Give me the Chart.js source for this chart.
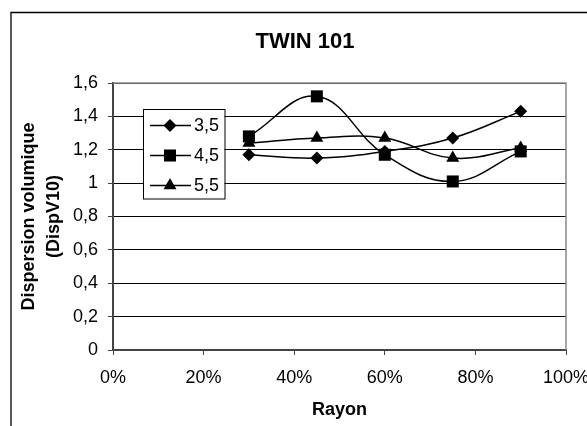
<!DOCTYPE html>
<html><head><meta charset="utf-8">
<script src="https://cdn.jsdelivr.net/npm/chart.js@4/dist/chart.umd.min.js"></script>
<style>html,body{margin:0;padding:0;background:#fff;} canvas{display:block;}</style>
</head><body>
<canvas id="c" width="587" height="426"></canvas>
<script>
// ---- data ----
const chartTitle = 'TWIN 101';
const xAxisTitle = 'Rayon';
const yAxisTitle = ['Dispersion volumique', '(DispV10)'];
const rayon = [0.30, 0.45, 0.60, 0.75, 0.90];
const seriesNames = ['3,5', '4,5', '5,5'];
const disp35 = [1.17, 1.15, 1.19, 1.27, 1.43];
const disp45 = [1.28, 1.52, 1.17, 1.01, 1.19];
const disp55 = [1.24, 1.27, 1.27, 1.15, 1.21];
const xTickValues = [0, 0.2, 0.4, 0.6, 0.8, 1.0];
const xTickLabels = ['0%', '20%', '40%', '60%', '80%', '100%'];
const yTickValues = [0, 0.2, 0.4, 0.6, 0.8, 1.0, 1.2, 1.4, 1.6];
const yTickLabels = ['0', '0,2', '0,4', '0,6', '0,8', '1', '1,2', '1,4', '1,6'];

// ---- styles ----
const FONT = "'Liberation Sans', Arial, sans-serif";
const seriesValues = [disp35, disp45, disp55];
const markerStyles = [
  {pointStyle: 'rectRot', radius: 6.5},
  {pointStyle: 'rect', radius: 8.5},
  {pointStyle: 'triangle', radius: 7.5}
];

const datasets = seriesNames.map((name, i) => ({
  label: name,
  data: rayon.map((x, j) => ({x: x, y: seriesValues[i][j]})),
  borderColor: '#000',
  borderWidth: 1.5,
  backgroundColor: '#000',
  pointStyle: markerStyles[i].pointStyle,
  pointRadius: markerStyles[i].radius,
  pointBackgroundColor: '#000',
  pointBorderColor: '#000',
  pointBorderWidth: 0,
  tension: 0.4,
  fill: false
}));

const framePlugin = {
  id: 'frame',
  beforeDatasetsDraw(chart) {
    const {ctx, chartArea: a} = chart;
    ctx.save();
    ctx.strokeStyle = '#8a8a8a';
    ctx.lineWidth = 1.5;
    ctx.beginPath();
    ctx.moveTo(a.left, a.top);
    ctx.lineTo(a.right, a.top);
    ctx.lineTo(a.right, a.bottom);
    ctx.stroke();
    ctx.restore();
  },
  afterDraw(chart) {
    const {ctx, chartArea: a} = chart;
    ctx.save();
    // outer chart border (only left & top visible)
    ctx.strokeStyle = '#000';
    ctx.lineWidth = 1.3;
    ctx.beginPath();
    ctx.moveTo(11, chart.height);
    ctx.lineTo(11, 12.5);
    ctx.lineTo(chart.width, 12.5);
    ctx.stroke();
    // title
    ctx.fillStyle = '#000';
    ctx.font = "bold 22px " + FONT;
    ctx.textAlign = 'center';
    ctx.textBaseline = 'middle';
    ctx.fillText(chartTitle, 305, 42);
    // legend
    const lx = a.left + 30, ly = a.top + 26, lw = 81.5, lh = 89.5;
    ctx.fillStyle = '#fff';
    ctx.fillRect(lx, ly, lw, lh);
    ctx.strokeStyle = '#000';
    ctx.lineWidth = 1;
    ctx.strokeRect(lx + 0.5, ly + 0.5, lw, lh);
    chart.data.datasets.forEach((ds, i) => {
      const y = ly + 16.5 + i * 30;
      ctx.strokeStyle = '#000';
      ctx.lineWidth = 1.5;
      ctx.beginPath();
      ctx.moveTo(lx + 7, y);
      ctx.lineTo(lx + 48, y);
      ctx.stroke();
      ctx.fillStyle = '#000';
      Chart.helpers.drawPoint(ctx, {pointStyle: ds.pointStyle, radius: ds.pointRadius, rotation: 0, borderWidth: 0}, lx + 27, y);
      ctx.fillStyle = '#000';
      ctx.font = "18px " + FONT;
      ctx.textAlign = 'left';
      ctx.textBaseline = 'middle';
      ctx.fillText(ds.label, lx + 51, y + 1);
    });
    ctx.restore();
  }
};

new Chart(document.getElementById('c'), {
  type: 'line',
  data: {datasets: datasets},
  plugins: [framePlugin],
  options: {
    responsive: false,
    animation: false,
    devicePixelRatio: 1,
    events: [],
    layout: {autoPadding: false, padding: {left: 0, right: 21, top: 83, bottom: 0}},
    plugins: {legend: {display: false}, tooltip: {enabled: false}, title: {display: false}},
    scales: {
      x: {
        type: 'linear', position: 'bottom', min: 0, max: 1,
        afterFit(s) { s.height = 76; s.paddingLeft = 0; s.paddingRight = 0; },
        afterBuildTicks(s) { s.ticks = xTickValues.map(v => ({value: v})); },
        ticks: {
          autoSkip: false, maxRotation: 0, padding: 12, color: '#000',
          font: {family: FONT, size: 18},
          callback: (v) => xTickLabels[xTickValues.findIndex(t => Math.abs(t - v) < 1e-9)]
        },
        grid: {drawOnChartArea: false, drawTicks: true, tickLength: 5, tickColor: '#444', color: '#444'},
        border: {display: true, color: '#444', width: 2},
        title: {display: true, text: xAxisTitle, color: '#000', font: {family: FONT, size: 18, weight: 'bold'}, padding: {top: 0, bottom: 5}}
      },
      y: {
        type: 'linear', position: 'left', min: 0, max: 1.6,
        afterFit(s) { s.width = 113; s.paddingTop = 0; s.paddingBottom = 0; },
        afterBuildTicks(s) { s.ticks = yTickValues.map(v => ({value: v})); },
        ticks: {
          autoSkip: false, padding: 10, color: '#000',
          font: {family: FONT, size: 18},
          callback: (v) => yTickLabels[yTickValues.findIndex(t => Math.abs(t - v) < 1e-9)]
        },
        grid: {drawOnChartArea: true, color: '#000', lineWidth: 1, drawTicks: true, tickLength: 5, tickColor: '#444'},
        border: {display: true, color: '#444', width: 2},
        title: {display: true, text: yAxisTitle, color: '#000', font: {family: FONT, size: 18, weight: 'bold', lineHeight: '25px'}, padding: {top: 17, bottom: 0}}
      }
    }
  }
});
</script>
</body></html>
